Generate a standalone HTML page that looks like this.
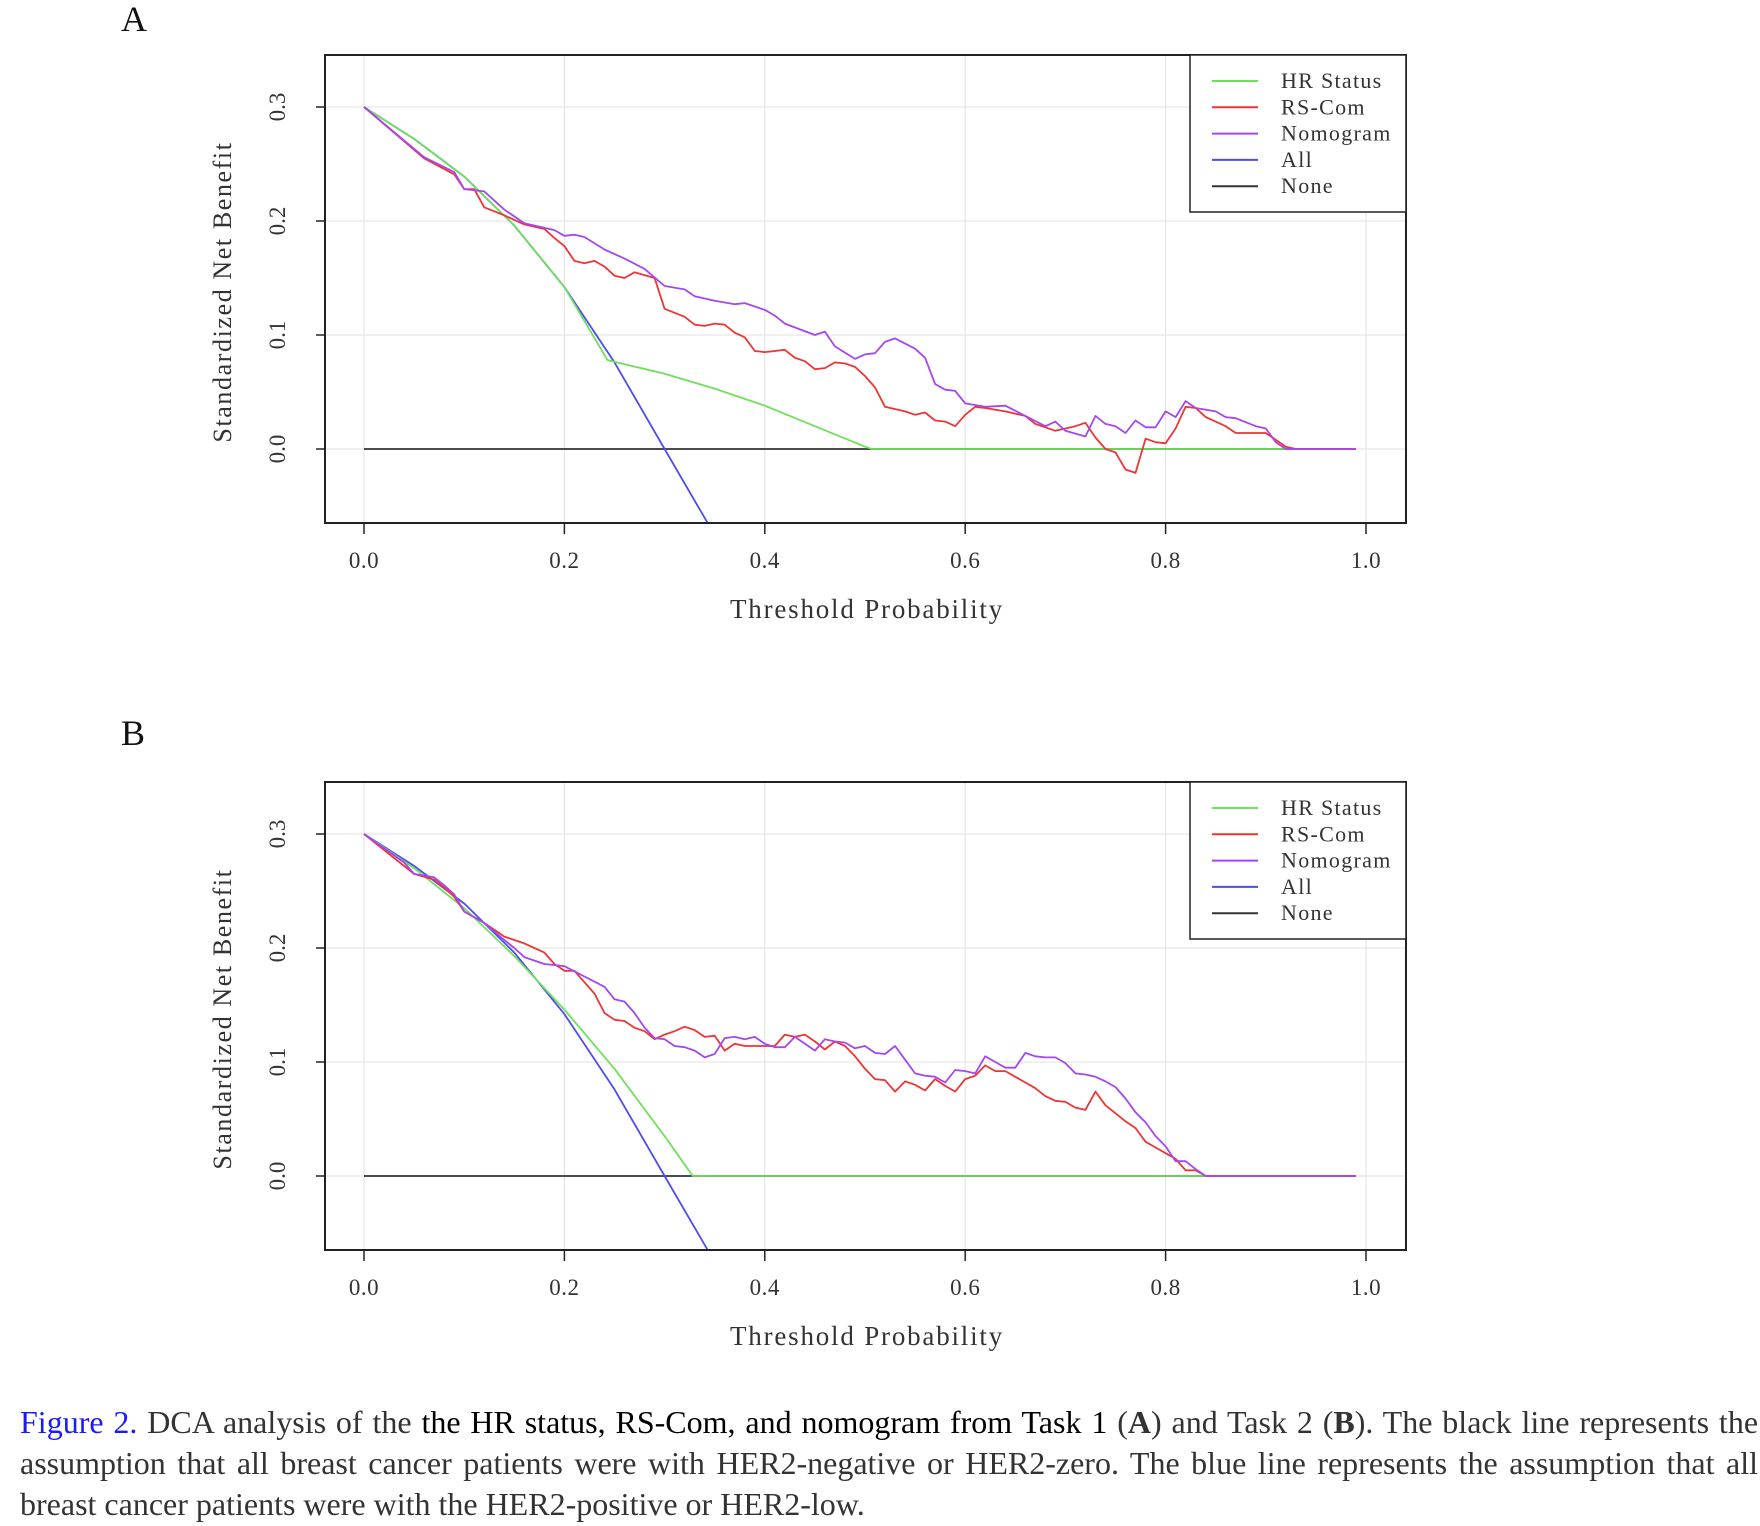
<!DOCTYPE html>
<html><head><meta charset="utf-8">
<style>
html,body{margin:0;padding:0;background:#fff;}
body{width:1760px;height:1526px;position:relative;overflow:hidden;font-family:"Liberation Serif",serif;}
.panel-letter{position:absolute;font-size:36px;color:#111;}
#caption{position:absolute;left:20px;top:1402px;width:1738px;font-size:32px;line-height:41px;color:#333;text-align:justify;text-align-last:left;}
#caption .fig{color:#1a1aff;}
</style></head>
<body>
<div class="panel-letter" style="left:121px;top:-2px;">A</div>
<div class="panel-letter" style="left:121px;top:712px;">B</div>
<svg id="chart" width="1760" height="1400" style="position:absolute;left:0;top:0"></svg>
<div id="caption"><span class="fig">Figure 2.</span> DCA analysis of the <span style="color:#000">the HR status, RS-Com, and nomogram from Task 1</span> (<b>A</b>) and Task 2 (<b>B</b>). The black line represents the assumption that all breast cancer patients were with HER2-negative or HER2-zero. The blue line represents the assumption that all breast cancer patients were with the HER2-positive or HER2-low.</div>
<script>
const xTicks=[0,0.2,0.4,0.6,0.8,1.0];
const xTickLabels=["0.0","0.2","0.4","0.6","0.8","1.0"];
const yTicks=[0,0.1,0.2,0.3];
const yTickLabels=["0.0","0.1","0.2","0.3"];
const legendLabels=["HR Status","RS-Com","Nomogram","All","None"];
const legendColors=["#6ee05a","#ee3535","#a447f0","#4d4df0","#333333"];
const noneLine=[[0,0],[0.99,0]];
const allLine=[[0,.3],[.05,.272],[.1,.239],[.15,.196],[.2,.142],[.25,.076],[.3,0],[.343,-.065]];
const hrA=[[0,.3],[.05,.272],[.1,.239],[.15,.196],[.2,.142],[.243,.078],[.3,.066],[.35,.053],[.4,.038],[.45,.02],[.5,.002],[.507,0],[.99,0]];
const rsA=[[0,.3],[.06,.255],[.09,.241],[.1,.228],[.11,.228],[.12,.212],[.14,.205],[.16,.197],[.18,.193],[.19,.185],[.2,.178],[.21,.165],[.22,.163],[.23,.165],[.24,.16],[.25,.152],[.26,.15],[.27,.155],[.29,.15],[.3,.123],[.32,.116],[.33,.109],[.34,.108],[.35,.11],[.36,.109],[.37,.102],[.38,.098],[.39,.086],[.4,.085],[.41,.086],[.42,.087],[.43,.08],[.44,.077],[.45,.07],[.46,.071],[.47,.076],[.48,.075],[.49,.072],[.5,.064],[.51,.054],[.52,.037],[.54,.033],[.55,.030],[.56,.032],[.57,.025],[.58,.024],[.59,.02],[.6,.03],[.61,.037],[.62,.036],[.64,.033],[.66,.029],[.67,.022],[.69,.016],[.71,.02],[.72,.023],[.73,.010],[.74,0],[.75,-.003],[.76,-.018],[.77,-.021],[.78,.009],[.79,.006],[.8,.005],[.81,.018],[.82,.037],[.83,.036],[.84,.028],[.86,.02],[.87,.014],[.9,.014],[.92,.002],[.93,0],[.99,0]];
const nomA=[[0,.3],[.06,.256],[.09,.243],[.1,.228],[.12,.226],[.14,.21],[.16,.198],[.19,.192],[.2,.187],[.21,.188],[.22,.186],[.24,.175],[.26,.167],[.28,.158],[.3,.143],[.32,.14],[.33,.134],[.35,.13],[.37,.127],[.38,.128],[.4,.122],[.41,.117],[.42,.110],[.45,.100],[.46,.103],[.47,.090],[.49,.079],[.5,.083],[.51,.084],[.52,.094],[.53,.097],[.55,.088],[.56,.080],[.57,.057],[.58,.052],[.59,.051],[.6,.040],[.62,.037],[.64,.038],[.66,.029],[.68,.020],[.69,.024],[.7,.016],[.72,.011],[.73,.029],[.74,.022],[.75,.020],[.76,.014],[.77,.025],[.78,.019],[.79,.019],[.8,.033],[.81,.028],[.82,.042],[.83,.036],[.85,.033],[.86,.028],[.87,.027],[.89,.020],[.9,.018],[.91,.006],[.92,0],[.99,0]];
const hrB=[[0,.3],[.05,.27],[.1,.235],[.15,.193],[.2,.146],[.25,.094],[.3,.035],[.328,0],[.99,0]];
const rsB=[[0,.3],[.05,.265],[.07,.26],[.08,.253],[.09,.245],[.1,.232],[.12,.222],[.14,.21],[.15,.207],[.16,.204],[.18,.196],[.19,.186],[.2,.18],[.21,.18],[.22,.17],[.23,.16],[.24,.143],[.25,.137],[.26,.136],[.27,.13],[.28,.127],[.29,.12],[.3,.124],[.31,.127],[.32,.131],[.33,.128],[.34,.122],[.35,.123],[.36,.11],[.37,.116],[.38,.114],[.39,.114],[.4,.114],[.41,.114],[.42,.124],[.43,.122],[.44,.124],[.45,.118],[.46,.111],[.47,.118],[.48,.114],[.49,.105],[.5,.094],[.51,.085],[.52,.084],[.53,.074],[.54,.083],[.55,.08],[.56,.075],[.57,.085],[.58,.079],[.59,.074],[.6,.085],[.61,.088],[.62,.097],[.63,.092],[.64,.092],[.65,.087],[.66,.082],[.67,.077],[.68,.07],[.69,.066],[.7,.065],[.71,.06],[.72,.058],[.73,.074],[.74,.062],[.75,.055],[.76,.048],[.77,.042],[.78,.03],[.79,.025],[.8,.02],[.81,.015],[.82,.005],[.83,.005],[.84,0],[.99,0]];
const nomB=[[0,.3],[.04,.275],[.05,.265],[.07,.262],[.08,.255],[.09,.247],[.1,.232],[.12,.222],[.14,.207],[.15,.2],[.16,.192],[.18,.186],[.2,.184],[.22,.175],[.24,.166],[.25,.155],[.26,.153],[.27,.143],[.28,.13],[.29,.121],[.3,.12],[.31,.114],[.32,.113],[.33,.11],[.34,.104],[.35,.107],[.36,.121],[.37,.122],[.38,.12],[.39,.122],[.4,.116],[.41,.113],[.42,.113],[.43,.122],[.45,.11],[.46,.12],[.47,.118],[.48,.117],[.49,.112],[.5,.114],[.51,.108],[.52,.107],[.53,.114],[.54,.102],[.55,.09],[.56,.088],[.57,.087],[.58,.082],[.59,.093],[.6,.092],[.61,.09],[.62,.105],[.63,.1],[.64,.095],[.65,.095],[.66,.108],[.67,.105],[.68,.104],[.69,.104],[.7,.099],[.71,.09],[.72,.089],[.73,.087],[.74,.083],[.75,.078],[.76,.068],[.77,.056],[.78,.047],[.79,.035],[.8,.026],[.81,.013],[.82,.013],[.83,.006],[.84,0],[.99,0]];

const NS="http://www.w3.org/2000/svg";
const svg=document.getElementById('chart');
function mk(tag,attrs,parent){const e=document.createElementNS(NS,tag);for(const k in attrs)e.setAttribute(k,attrs[k]);(parent||svg).appendChild(e);return e;}

function panel(id,top,series){
  const g=mk('g',{});
  
  
  const L=325,R=1406,T=top,B=top+468;
  const X0=364,X1=1366,Y0=top+394,Y3=top+52;
  const sx=v=>X0+(X1-X0)*v;
  const sy=v=>Y0+(Y3-Y0)*v/0.3;
  xTicks.forEach(v=>{const l=mk('line',{x1:sx(v),x2:sx(v),y1:T,y2:B,stroke:'#e6e6e6','stroke-width':1.2},g);
    });
  yTicks.forEach(v=>{const l=mk('line',{x1:L,x2:R,y1:sy(v),y2:sy(v),stroke:'#e6e6e6','stroke-width':1.2},g);
    });
  series.forEach(s=>{
    const p=mk('polyline',{points:s.d.map(q=>sx(q[0]).toFixed(1)+','+sy(q[1]).toFixed(1)).join(' '),fill:'none',stroke:s.c,'stroke-width':1.8,'stroke-linejoin':'round'},g);
    
    
  });
  const box=mk('rect',{x:L,y:T,width:R-L,height:B-T,fill:'none',stroke:'#222','stroke-width':2},g);
  
  
  xTicks.forEach((v,i)=>{
    mk('line',{x1:sx(v),x2:sx(v),y1:B,y2:B+11,stroke:'#222','stroke-width':1.5},g);
    const t=mk('text',{x:sx(v),y:B+45,'text-anchor':'middle','font-size':23,fill:'#333','font-family':'Liberation Serif, serif','letter-spacing':'0.5'},g);
    t.textContent=xTickLabels[i];
    
    
  });
  yTicks.forEach((v,i)=>{
    mk('line',{x1:L-9,x2:L,y1:sy(v),y2:sy(v),stroke:'#222','stroke-width':1.5},g);
    const t=mk('text',{x:285,y:sy(v),'text-anchor':'middle','font-size':23,fill:'#333','font-family':'Liberation Serif, serif',transform:`rotate(-90 285 ${sy(v)})`},g);
    t.textContent=yTickLabels[i];
    
    
  });
  const xt=mk('text',{x:867,y:top+563,'text-anchor':'middle','font-size':27,fill:'#333','font-family':'Liberation Serif, serif','letter-spacing':'1.8'},g);
  xt.textContent='Threshold Probability';
  
  
  const yc=top+237;
  const yt=mk('text',{x:231,y:yc,'text-anchor':'middle','font-size':26,fill:'#333','font-family':'Liberation Serif, serif','letter-spacing':'1.6',transform:`rotate(-90 231 ${yc})`},g);
  yt.textContent='Standardized Net Benefit';
  
  
  const lg=mk('g',{},g);
  
  
  mk('rect',{x:1190,y:T,width:R-1190,height:157,fill:'#fff',stroke:'#222','stroke-width':1.5},lg);
  legendLabels.forEach((lab,i)=>{
    const y=T+26+i*26.3;
    const ln=mk('line',{x1:1212,x2:1258,y1:y,y2:y,stroke:legendColors[i],'stroke-width':2},lg);
    
    
    const t=mk('text',{x:1281,y:y+7,'font-size':22,fill:'#333','font-family':'Liberation Serif, serif','letter-spacing':'1.3'},lg);
    t.textContent=lab;
    
    
  });
}
panel('chart-a',55,[
  {n:'none-line',d:noneLine,c:'#333333'},
  {n:'all-line',d:allLine,c:'#4d4df0'},
  {n:'hr-status-line',d:hrA,c:'#6ee05a'},
  {n:'rs-com-line',d:rsA,c:'#ee3535'},
  {n:'nomogram-line',d:nomA,c:'#a447f0'}]);
panel('chart-b',782,[
  {n:'none-line',d:noneLine,c:'#333333'},
  {n:'all-line',d:allLine,c:'#4d4df0'},
  {n:'hr-status-line',d:hrB,c:'#6ee05a'},
  {n:'rs-com-line',d:rsB,c:'#ee3535'},
  {n:'nomogram-line',d:nomB,c:'#a447f0'}]);
</script>
</body></html>
